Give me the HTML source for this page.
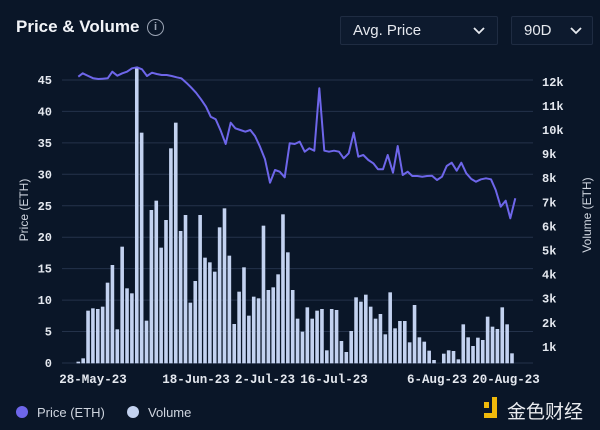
<!DOCTYPE html>
<html><head><meta charset="utf-8"><style>
html,body{margin:0;padding:0;background:#0a1628;}
body{width:600px;height:430px;overflow:hidden;position:relative;font-family:"Liberation Sans",sans-serif;color:#e8ecf3;}
.t{position:absolute;left:16px;top:17px;font-size:17px;font-weight:bold;color:#f2f4f8;}
.info{position:absolute;left:147px;top:19px;width:15px;height:15px;border:1.5px solid #9aa3b3;border-radius:50%;color:#9aa3b3;font-size:11px;text-align:center;line-height:15px;font-weight:bold;}
.dd{position:absolute;top:16px;height:27px;border:1px solid #1f2c42;background:#0d1a2e;border-radius:2px;font-size:15px;line-height:27px;color:#e6e9ef;}
</style></head><body>
<div class="t">Price &amp; Volume</div>
<div class="info">i</div>
<div class="dd" style="left:340px;width:156px;"><span style="margin-left:12px">Avg. Price</span><svg style="position:absolute;right:12px;top:10px" width="12" height="8"><path d="M1 1 L6 6 L11 1" stroke="#e6e9ef" stroke-width="1.8" fill="none"/></svg></div>
<div class="dd" style="left:511px;width:80px;"><span style="margin-left:12px">90D</span><svg style="position:absolute;right:10px;top:10px" width="12" height="8"><path d="M1 1 L6 6 L11 1" stroke="#e6e9ef" stroke-width="1.8" fill="none"/></svg></div>
<svg id="c" width="600" height="430" style="position:absolute;left:0;top:0" font-family="Liberation Mono, monospace">
<g id="grid" stroke="#24324a" stroke-width="1"></g>
<g id="bars" fill="#c3d2f0"></g>
<polyline id="line" fill="none" stroke="#6e66ea" stroke-width="2" stroke-linejoin="round"/>
<g id="lab" fill="#e4e8ef" font-size="12" font-weight="bold"></g>
<text x="28" y="210" transform="rotate(-90 28 210)" text-anchor="middle" font-family="Liberation Sans, sans-serif" font-size="12" fill="#cfd5df">Price (ETH)</text>
<text x="591" y="215" transform="rotate(-90 591 215)" text-anchor="middle" font-family="Liberation Sans, sans-serif" font-size="12" fill="#cfd5df">Volume (ETH)</text>
<g fill="#e4e8ef" font-size="12.5" font-weight="bold" text-anchor="middle">
<text x="93" y="383">28-May-23</text><text x="196" y="383">18-Jun-23</text><text x="265" y="383">2-Jul-23</text><text x="334" y="383">16-Jul-23</text><text x="437" y="383">6-Aug-23</text><text x="506" y="383">20-Aug-23</text>
</g>
<circle cx="22" cy="412" r="6" fill="#6e66ea"/>
<text x="37" y="417" font-family="Liberation Sans, sans-serif" font-size="13" fill="#cfd5df">Price (ETH)</text>
<circle cx="133" cy="412" r="6" fill="#c3d2f0"/>
<text x="148" y="417" font-family="Liberation Sans, sans-serif" font-size="13" fill="#cfd5df">Volume</text>
<rect x="484" y="402" width="5" height="6" fill="#f0b90b"/><rect x="492" y="397" width="5" height="21" fill="#f0b90b"/><rect x="484" y="413" width="13" height="5" fill="#f0b90b"/>
<text x="507" y="418" font-family="Noto Sans CJK SC, sans-serif" font-size="19" fill="#e8eaee">金色财经</text>
</svg>
<script>
var g=document.getElementById('grid'),lab=document.getElementById('lab'),ns='http://www.w3.org/2000/svg';
function el(t,a,p,txt){var e=document.createElementNS(ns,t);for(var k in a)e.setAttribute(k,a[k]);if(txt!=null)e.textContent=txt;p.appendChild(e);return e;}
for(var i=0;i<=9;i++){var y=363-i*31.45;el('line',{x1:62,x2:533,y1:y,y2:y},g);el('text',{x:52,y:y+4,'text-anchor':'end'},lab,String(i*5));}
for(var i=1;i<=12;i++){var y=371-i*24.1;el('text',{x:542,y:y+4},lab,i+'k');}
var T=[905,895,752,745,747,740,668,615,808,560,685,700,25,218,782,450,422,563,480,265,188,513,465,728,663,465,593,607,635,502,445,587,792,695,622,767,710,715,497,690,682,643,463,577,690,776,815,742,776,752,747,871,747,750,843,876,813,712,725,704,740,776,762,823,697,805,783,783,847,735,832,845,872,900,null,881,871,873,898,793,832,858,833,840,770,800,807,742,793,880];
var b=document.getElementById('bars');
T.forEach(function(t,i){if(t==null)return;var x=78.3+i*4.873;el('rect',{x:(x-1.8).toFixed(2),y:(60+t/3).toFixed(2),width:3.6,height:((910-t)/3).toFixed(2)},b);});
var L1=[55,50,68,40,85,48,100,55,115,57,128,56,143,55,157,35,172,47,187,40,201,35,216,25,231,22,246,28,261,48,276,38,290,42,305,45,320,45,335,48,350,52,364,55,379,68,393,82,408,98,423,118,438,140,452,170,467,178,482,212,497,252,512,188,526,205,541,210,556,215,571,210,585,228,600,260,615,298,630,368,645,330,659,335,674,352,689,250];
var L2=[14,252,29,245,44,275,58,265,73,272,88,85,103,272,117,275,132,272,147,275,161,295,176,280,191,218,205,290,220,285,235,300,250,310,264,328,279,328,293,285,309,338,323,258,338,345,353,335,367,348,382,348,397,350,411,348,426,347,441,360,456,350,470,318,485,308,500,332,514,308,529,340,544,357,558,365,573,358,588,355,603,358,617,390,632,440,647,422,661,475,676,415];
var pts=[];for(var i=0;i<L1.length;i+=2)pts.push((60+L1[i]/3).toFixed(1)+','+(60+L1[i+1]/3).toFixed(1));
for(var i=0;i<L2.length;i+=2)pts.push((290+L2[i]/3).toFixed(1)+','+(60+L2[i+1]/3).toFixed(1));
document.getElementById('line').setAttribute('points',pts.join(' '));
</script>
</body></html>
